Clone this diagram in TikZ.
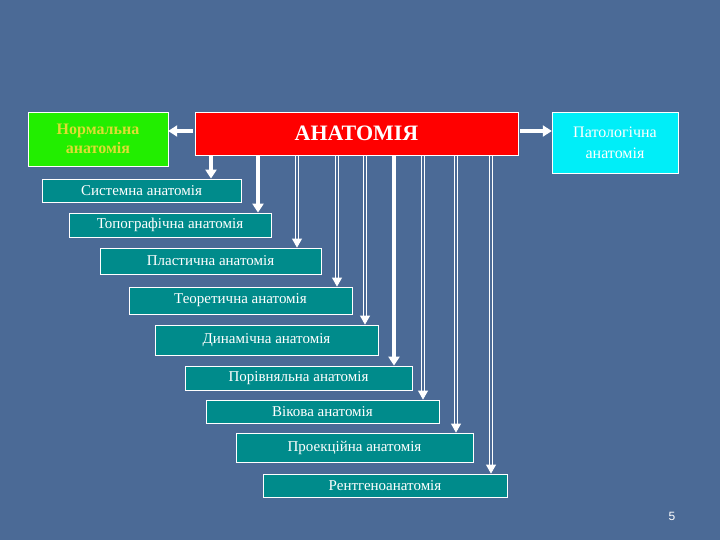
\documentclass[tikz,border=0pt]{standalone}
\usepackage{fontspec}
\usetikzlibrary{arrows.meta}
\setmainfont{Liberation Serif}
\newfontfamily\sansf{Liberation Sans}
\definecolor{bg}{HTML}{4B6A96}
\definecolor{teal1}{HTML}{008B8B}
\definecolor{gr}{HTML}{22EE00}
\definecolor{yl}{HTML}{DDDD33}
\definecolor{cy}{HTML}{00EEF8}
\begin{document}
\begin{tikzpicture}[x=1pt,y=-1pt,
  box/.style={draw=white,line width=0.8pt,fill=teal1,text=white,font=\fontsize{15}{17}\selectfont,inner sep=0pt},
  sol/.style={draw=white,line width=3.5pt,-{Triangle[length=9pt,width=11pt]}},
  dbl/.style={draw=white,double=bg,double distance=2pt,line width=0.9pt,-{Triangle[length=9pt,width=10pt,fill=white]}}]
\useasboundingbox (0,0) rectangle (720,540);
\fill[bg] (0,0) rectangle (720,540);
\node[draw=white,fill=gr,text=yl,font=\bfseries\fontsize{16}{19}\selectfont,align=center,minimum width=140pt,minimum height=54pt,inner sep=0pt] (n) at (98,139) {Нормальна\\анатомія};
\node[draw=white,fill=red,text=white,font=\bfseries\fontsize{22}{24}\selectfont,minimum width=323pt,minimum height=43pt,inner sep=0pt] (a) at (356.5,133.5) {АНАТОМІЯ};
\node[draw=white,fill=cy,text=white,font=\fontsize{16}{21}\selectfont,align=center,minimum width=126pt,minimum height=61pt,inner sep=0pt] (p) at (615,142.5) {Патологічна\\анатомія};
\node[box,minimum width=199pt,minimum height=23pt] (b1) at (141.5,190.5) {Системна анатомія};
\node[box,minimum width=202pt,minimum height=24pt] (b2) at (170,225) {Топографічна анатомія};
\node[box,minimum width=221pt,minimum height=26pt] (b3) at (210.5,261) {Пластична анатомія};
\node[box,minimum width=223pt,minimum height=27pt] (b4) at (240.5,300.5) {Теоретична анатомія};
\node[box,minimum width=223pt,minimum height=30pt] (b5) at (266.5,340) {Динамічна анатомія};
\node[box,minimum width=227pt,minimum height=24pt] (b6) at (298.5,378) {Порівняльна анатомія};
\node[box,minimum width=233pt,minimum height=23pt] (b7) at (322.5,411.5) {Вікова анатомія};
\node[box,minimum width=237pt,minimum height=29pt] (b8) at (354.5,447.5) {Проекційна анатомія};
\node[box,minimum width=244pt,minimum height=23pt] (b9) at (385,485.5) {Рентгеноанатомія};
\draw[sol] (a.west |- 0,131) ++(-2,0) -- (n.east |- 0,131);
\draw[sol] (a.east |- 0,131) ++(2,0) -- (p.west |- 0,131);
\draw[sol] (a.south -| 211,0) -- (b1.north -| 211,0);
\draw[sol] (a.south -| 258,0) -- (b2.north -| 258,0);
\draw[dbl] (a.south -| 297,0) ++(0,1) -- (b3.north -| 297,0);
\draw[dbl] (a.south -| 337,0) ++(0,1) -- (b4.north -| 337,0);
\draw[dbl] (a.south -| 365,0) ++(0,1) -- (b5.north -| 365,0);
\draw[sol] (a.south -| 394,0) -- (b6.north -| 394,0);
\draw[dbl] (a.south -| 423,0) ++(0,1) -- (b7.north -| 423,0);
\draw[dbl] (a.south -| 456,0) ++(0,1) -- (b8.north -| 456,0);
\draw[dbl] (a.south -| 491,0) ++(0,1) -- (b9.north -| 491,0);
\node[text=white,font=\sansf\fontsize{12}{14}\selectfont] (pg) at (672,516) {5};
\end{tikzpicture}
\end{document}
